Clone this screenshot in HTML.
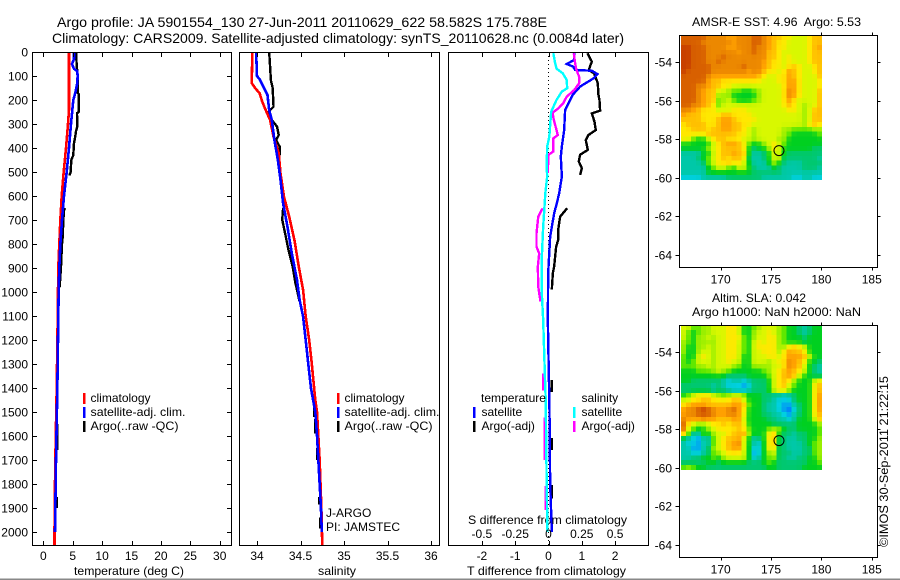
<!DOCTYPE html>
<html>
<head>
<meta charset="utf-8">
<title>Argo profile</title>
<style>
html,body{margin:0;padding:0;background:#fff;width:900px;height:580px;overflow:hidden}
svg{display:block}
text{font-family:"Liberation Sans",sans-serif;font-size:12px;fill:#000}
.big{font-size:14px}
</style>
</head>
<body>
<svg id="fig" xmlns="http://www.w3.org/2000/svg" width="900" height="580" viewBox="0 0 900 580">
<rect x="0" y="0" width="900" height="580" fill="#fff"/>
<text class="big" x="57" y="27" textLength="490" lengthAdjust="spacingAndGlyphs">Argo profile: JA 5901554_130 27-Jun-2011 20110629_622 58.582S 175.788E</text>
<text class="big" x="52" y="43" textLength="572" lengthAdjust="spacingAndGlyphs">Climatology: CARS2009. Satellite-adjusted climatology: synTS_20110628.nc (0.0084d later)</text>
<text x="692" y="26" xml:space="preserve" style="white-space:pre" textLength="169" lengthAdjust="spacingAndGlyphs">AMSR-E SST: 4.96  Argo: 5.53</text>
<text x="712" y="302" textLength="94" lengthAdjust="spacingAndGlyphs">Altim. SLA: 0.042</text>
<text x="692" y="316" textLength="169" lengthAdjust="spacingAndGlyphs">Argo h1000: NaN h2000: NaN</text>
<text x="74" y="575" textLength="110" lengthAdjust="spacingAndGlyphs">temperature (deg C)</text>
<text x="318" y="575" textLength="38" lengthAdjust="spacingAndGlyphs">salinity</text>
<text x="467" y="575" textLength="159" lengthAdjust="spacingAndGlyphs">T difference from climatology</text>
<text x="468" y="524" textLength="159" lengthAdjust="spacingAndGlyphs">S difference from climatology</text>
<text transform="translate(888,547) rotate(-90)" x="0" y="0" textLength="171" lengthAdjust="spacingAndGlyphs">©IMOS 30-Sep-2011 21:22:15</text>
<g id="series-layer"></g>
<g id="map-layer"></g>
<g id="axis-layer"></g>
<g>
<rect x="83" y="393" width="2.5" height="11" fill="#f00"/>
<rect x="83" y="407" width="2.5" height="11" fill="#00f"/>
<rect x="83" y="421" width="2.5" height="11" fill="#000"/>
<text x="90.5" y="402">climatology</text>
<text x="90.5" y="416" textLength="95" lengthAdjust="spacingAndGlyphs">satellite-adj. clim.</text>
<text x="90.5" y="430" textLength="88" lengthAdjust="spacingAndGlyphs">Argo(..raw -QC)</text>
</g>
<g>
<rect x="337" y="393" width="2.5" height="11" fill="#f00"/>
<rect x="337" y="407" width="2.5" height="11" fill="#00f"/>
<rect x="337" y="421" width="2.5" height="11" fill="#000"/>
<text x="344.5" y="402">climatology</text>
<text x="344.5" y="416" textLength="95" lengthAdjust="spacingAndGlyphs">satellite-adj. clim.</text>
<text x="344.5" y="430" textLength="88" lengthAdjust="spacingAndGlyphs">Argo(..raw -QC)</text>
<text x="326" y="517">J-ARGO</text>
<text x="326" y="531">PI: JAMSTEC</text>
</g>
<g>
<text x="481" y="402" textLength="65" lengthAdjust="spacingAndGlyphs">temperature</text>
<rect x="473" y="407" width="2.5" height="11" fill="#00f"/>
<rect x="473" y="421" width="2.5" height="11" fill="#000"/>
<text x="481.5" y="416">satellite</text>
<text x="481.5" y="430">Argo(-adj)</text>
<text x="581.5" y="402">salinity</text>
<rect x="573" y="407" width="2.5" height="11" fill="#0ff"/>
<rect x="573" y="421" width="2.5" height="11" fill="#f0f"/>
<text x="581.5" y="416">satellite</text>
<text x="581.5" y="430">Argo(-adj)</text>
</g>
<rect x="0" y="578.5" width="900" height="1.5" fill="#888"/>
</svg>
<script>
// ---------- profile data (depth in dbar; gaps marked with null) ----------
const depthTicks = [0,100,200,300,400,500,600,700,800,900,1000,1100,1200,1300,1400,1500,1600,1700,1800,1900,2000];
const tempTicks = [0,5,10,15,20,25,30];
const salTicks = [34,34.5,35,35.5,36];
const tDiffTicks = [-2,-1,0,1,2];
const sDiffTicks = [-0.5,-0.25,0,0.25,0.5];
const lonTicks = [170,175,180,185];
const latTicks = [-54,-56,-58,-60,-62,-64];

const tempClimDepths = [0,100,240,300,400,500,600,700,800,900,1000,1200,1400,1600,1700,1900,2055];
const tempClimValues = [4.37,4.37,4.37,4.2,3.86,3.47,3.13,2.9,2.72,2.55,2.5,2.4,2.28,2.12,2.05,1.93,1.9];
const tempSatDepths = [0,30,50,70,80,100,130,170,200,300,400,500,600,700,800,900,1000,1400,1700,1900,2000];
const tempSatValues = [5.22,5.22,4.88,5.22,5.78,5.84,5.78,5.44,5.1,4.71,4.37,3.98,3.52,3.18,2.9,2.72,2.61,2.39,2.16,2.05,1.99];
const tempArgoDepths = [0,50,100,170,175,250,255,310,330,350,380,430,450,500,515,null,650,660,700,770,800,900,980,null,1550,1658,null,1854,1900];
const tempArgoValues = [5.56,5.67,5.84,5.84,6.01,6.01,5.73,5.8,5.56,5.45,5.22,5.1,4.76,4.65,4.43,null,3.69,3.52,3.41,3.3,3.18,3.0,2.78,null,2.42,2.42,null,2.3,2.3];

const salClimDepths = [0,130,151,172,207,242,283,353,422,505,603,686,783,894,992,1103,1200,1300,1450,1500,1700,1900,2055];
const salClimValues = [33.946,33.94,33.98,34.03,34.06,34.1,34.15,34.19,34.25,34.27,34.31,34.37,34.43,34.48,34.53,34.56,34.6,34.63,34.67,34.69,34.72,34.74,34.75];
const salSatDepths = [0,100,114,150,178,242,283,367,450,533,630,728,839,950,1033,1103,1400,1500,1600,1700,1800,1900,2000];
const salSatValues = [33.99,34.0,34.03,34.08,34.12,34.14,34.17,34.2,34.24,34.27,34.3,34.35,34.4,34.46,34.49,34.53,34.62,34.67,34.69,34.705,34.72,34.735,34.745];
const salArgoDepths = [0,118,150,228,250,283,311,346,367,394,428,450,505,null,650,699,768,822,894,960,1040,null,1480,1520,null,1530,1590,null,1650,1700,null,1855,1885,null,1940,1985];
const salArgoValues = [34.14,34.16,34.18,34.19,34.13,34.17,34.23,34.25,34.22,34.26,34.26,34.25,34.27,null,34.3,34.29,34.33,34.36,34.41,34.44,34.49,null,34.655,34.655,null,34.667,34.667,null,34.69,34.69,null,34.716,34.716,null,34.727,34.727];

const tDiffSatDepths = [5,33,50,61,75,78,92,110,144,178,241,325,394,436,519,589,630,672,769,922,1117,1500,1800,2000];
const tDiffSatValues = [0.77,0.77,0.55,0.74,0.8,1.3,1.47,1.35,0.95,0.73,0.5,0.47,0.4,0.37,0.4,0.32,0.25,0.17,0.05,-0.01,-0.02,0.03,0.05,0.1];
const tDiffArgoDepths = [5,40,75,89,130,178,200,244,256,290,325,346,367,408,428,456,484,512,null,651,686,742,783,811,894,922,989,null,1367,1417,null,1608,1658,null,1804,1860];
const tDiffArgoValues = [1.17,1.3,1.21,1.37,1.48,1.5,1.53,1.55,1.3,1.38,1.42,1.2,1.12,1.18,0.95,0.91,1.0,0.95,null,0.56,0.35,0.29,0.29,0.23,0.17,0.13,0.1,null,0.1,0.1,null,0.1,0.1,null,0.1,0.1];
const sDiffSatDepths = [5,47,69,89,117,151,165,200,249,353,394,478,519,589,644,728,853,1006,1117,1367,1450,1783,2000];
const sDiffSatValues = [0.036,0.05,0.06,0.107,0.137,0.14,0.1,0.06,0.02,0.006,-0.01,-0.014,-0.01,-0.024,-0.03,-0.04,-0.05,-0.05,-0.04,-0.026,-0.021,-0.014,-0.008];
const sDiffArgoDepths = [5,47,75,103,130,158,186,214,235,253,283,325,346,360,415,428,505,null,651,686,756,811,839,894,978,1040,null,1340,1410,null,1522,1700,null,1808,1908];
const sDiffArgoValues = [0.19,0.2,0.21,0.23,0.23,0.194,0.137,0.11,0.074,0.03,0.04,0.06,0.07,0.036,0.036,0,-0.006,null,-0.044,-0.077,-0.09,-0.09,-0.07,-0.08,-0.077,-0.06,null,-0.04,-0.04,null,-0.03,-0.03,null,-0.02,-0.02];

// ---------- map data (colour-level per cell, rows north to south) ----------
const floatLon = 175.788;
const floatLat = -58.582;
const gridLonStart = 166.05;
const gridLatStart = -52.6;
const gridLonStep = 0.5;
const gridLatStep = 0.25;
const sstLevels = [
[13,13,13,13,13,12,12,12,12,11,11,12,12,12,13,13,12,11,10,10,9,9,8,8,8,9,10,10],
[13,13,13,13,12,12,12,12,12,12,11,12,12,12,13,13,12,11,10,9,9,8,8,8,8,9,10,10],
[14,14,13,13,13,12,12,12,12,11,11,12,12,12,13,12,12,11,10,9,9,8,8,8,8,9,10,11],
[14,14,13,13,13,12,12,12,12,12,12,11,12,12,13,12,12,10,10,9,8,8,8,8,8,9,10,10],
[14,14,13,13,13,12,12,12,13,12,12,12,12,12,12,12,12,10,10,9,8,9,8,8,8,9,10,10],
[14,14,13,13,13,12,12,13,12,12,12,12,12,12,12,12,11,10,9,9,8,9,8,8,8,9,10,10],
[14,14,13,13,13,13,12,12,12,12,12,12,13,12,12,12,11,10,9,9,8,9,10,9,8,8,9,10],
[14,13,13,13,13,13,12,12,12,12,12,12,12,11,12,12,10,9,9,8,9,11,10,9,8,8,9,10],
[13,13,13,13,13,12,11,11,11,11,11,11,11,11,11,10,9,8,8,9,9,11,10,9,8,8,8,10],
[13,13,13,13,13,11,10,10,9,9,9,9,9,9,9,9,8,8,8,9,9,11,11,9,8,8,8,9],
[13,13,13,12,12,11,10,10,9,9,8,8,8,8,8,8,8,8,8,8,9,11,11,9,8,8,8,9],
[13,13,13,12,11,10,10,8,8,7,6,6,5,5,6,7,8,8,8,8,9,12,11,9,8,8,8,10],
[13,13,13,12,11,10,10,7,7,7,5,5,5,5,5,7,8,8,8,8,9,12,11,9,8,8,8,10],
[13,13,13,12,11,10,10,6,7,8,6,5,5,5,6,7,8,8,8,8,9,11,9,8,8,8,8,10],
[13,13,12,12,11,10,9,6,8,8,8,8,8,8,8,8,8,8,8,8,9,10,9,8,7,8,8,10],
[12,12,11,10,9,9,9,8,8,8,9,9,9,8,8,8,8,8,8,8,8,9,9,8,7,8,10,10],
[11,10,10,10,9,9,9,9,10,10,9,9,9,9,8,8,8,8,8,8,8,8,8,8,7,8,10,10],
[10,10,10,10,9,9,9,10,11,11,10,9,9,9,9,8,8,8,8,8,8,8,8,8,7,8,10,10],
[9,10,10,10,10,9,9,10,11,11,10,10,9,9,8,8,8,8,8,8,8,8,8,8,7,9,10,9],
[9,9,10,10,10,9,10,10,11,11,10,10,9,8,7,8,8,8,8,8,7,7,6,6,6,6,7,7],
[9,9,9,9,9,10,10,10,10,10,10,9,9,8,7,8,8,8,8,8,7,6,5,5,5,5,5,6],
[9,9,6,5,5,8,9,10,10,9,9,9,8,8,7,8,8,8,8,7,7,5,5,5,5,5,5,5],
[5,5,5,5,5,5,8,9,10,11,11,10,9,6,5,5,7,8,9,8,6,5,5,5,5,5,5,5],
[5,5,5,5,5,7,8,9,10,10,10,10,9,5,4,5,5,7,9,8,5,5,5,5,5,5,4,4],
[3,3,3,3,5,5,8,9,10,10,11,10,10,5,3,3,4,5,8,8,5,4,4,4,4,4,4,4],
[3,3,3,4,5,6,8,9,10,9,10,10,9,4,3,3,4,5,8,8,4,4,4,4,4,4,4,3],
[3,3,3,3,4,6,8,9,9,10,9,9,8,5,3,3,3,5,7,5,4,3,3,3,4,4,4,4],
[3,3,3,3,3,5,6,8,8,6,5,8,8,5,4,3,3,3,5,4,3,3,3,3,4,4,4,3],
[3,3,3,3,3,5,5,5,5,5,5,5,5,5,4,4,4,4,4,4,3,3,3,3,3,3,3,3],
[2,2,2,2,3,3,3,3,3,4,4,4,4,4,4,4,3,3,3,3,3,3,2,2,3,3,2,2]
];
const slaLevels = [
[8,8,6,6,7,7,8,8,8,9,9,8,5,5,6,7,8,8,8,7,6,5,5,4,3,4,5,5],
[8,6,5,6,7,7,8,8,8,9,9,8,5,5,7,8,8,9,8,7,6,5,5,4,3,4,5,5],
[8,6,5,7,7,8,7,8,8,9,9,9,6,5,7,8,8,9,9,7,6,5,5,5,4,5,5,5],
[7,6,5,7,7,7,7,8,8,9,9,8,6,5,8,9,8,9,9,7,6,5,5,5,4,5,5,5],
[7,5,5,7,7,8,7,8,8,9,9,8,6,5,8,9,9,9,9,7,7,9,10,9,8,5,5,5],
[7,5,5,7,8,8,7,8,8,9,9,8,6,5,8,8,9,9,9,7,9,11,10,10,9,5,5,5],
[6,5,5,8,9,8,7,8,8,9,9,8,5,5,8,8,8,9,9,8,9,11,11,11,10,8,5,5],
[6,5,6,8,8,8,7,8,8,9,8,8,5,5,8,8,8,7,8,9,9,12,11,10,9,5,5,4],
[6,6,6,7,7,8,7,8,8,8,7,6,5,5,7,7,7,7,8,8,9,12,11,10,8,5,4,3],
[5,5,5,6,6,6,7,8,7,6,5,5,5,5,5,5,6,7,8,9,10,11,10,9,8,5,4,3],
[5,5,5,5,5,5,5,5,5,4,4,4,4,5,5,5,5,6,8,9,10,11,10,8,5,5,4,4],
[5,5,4,4,4,4,4,4,3,2,3,3,2,3,4,4,4,5,8,9,10,9,7,5,5,5,8,9],
[4,4,4,4,4,4,3,4,3,2,2,2,1,2,4,4,4,5,8,9,10,8,6,5,5,5,9,10],
[4,4,4,4,4,4,3,4,4,3,2,2,2,3,4,4,4,5,8,9,9,7,5,5,5,5,9,10],
[5,6,8,9,9,9,8,7,6,7,8,8,7,5,5,5,4,4,3,3,2,3,4,5,5,5,9,11],
[8,8,9,9,10,10,9,9,9,9,10,10,8,5,5,5,4,4,3,2,2,2,4,5,5,5,9,11],
[9,10,11,11,11,10,10,10,10,10,11,11,10,6,5,5,4,3,3,2,1,1,3,4,5,5,9,11],
[11,12,12,13,14,13,12,11,11,12,13,11,9,5,5,5,4,3,3,2,1,0,2,4,5,5,9,11],
[11,12,12,13,13,13,12,11,11,12,12,11,9,5,5,5,4,4,3,3,2,1,3,4,5,5,9,10],
[12,11,11,11,12,11,11,10,10,10,11,11,8,5,5,5,5,4,4,3,3,2,3,5,5,5,8,10],
[13,9,8,7,7,8,9,9,10,9,10,10,9,5,5,5,5,5,4,4,4,4,4,5,5,5,5,7],
[13,8,6,5,5,7,8,9,9,9,9,10,9,6,5,5,5,6,7,7,5,4,4,5,5,5,5,6],
[10,6,3,3,6,5,7,8,8,9,10,10,11,7,5,5,5,9,10,5,4,4,3,4,4,5,5,6],
[4,3,2,1,3,3,6,8,9,10,10,11,8,5,3,4,5,9,10,4,4,3,3,4,4,5,5,7],
[3,2,2,1,3,3,6,8,9,10,11,12,8,5,3,2,5,9,10,4,4,3,3,3,4,5,6,7],
[3,3,1,1,3,4,7,8,9,10,11,11,8,5,2,2,5,9,9,4,4,3,3,3,4,4,6,7],
[3,3,2,2,3,4,6,7,8,9,9,9,8,5,1,2,5,7,8,4,4,4,3,3,4,4,6,7],
[3,3,4,4,5,5,6,5,7,8,8,8,8,5,2,3,5,6,7,4,4,3,3,4,4,5,5,7],
[4,4,4,4,4,5,5,4,5,5,5,5,5,4,4,4,5,6,5,4,4,4,4,4,4,5,5,6],
[6,7,6,5,5,4,4,4,4,4,4,4,4,4,4,4,4,5,5,4,4,4,4,4,5,5,5,5]
];

// ---------- scales ----------
const SVGNS = 'http://www.w3.org/2000/svg';
const panelTop = 52, panelBottom = 545;
function yDepth(d){ return 52 + 0.24 * d; }
function xTemp(t){ return 43.3 + 5.88 * t; }
function xSal(s){ return 257 + 87 * (s - 34); }
function xTDiff(v){ return 548.5 + 33.3 * v; }
function xSDiff(v){ return 548.5 + 133.2 * v; }
function xLon(lon){ return 720.7 + 10.07 * (lon - 170); }
function yLat(lat, latOrigin){ return latOrigin + 19.27 * (-54 - lat); }
const colorStops = [[0,112,255],[0,160,240],[0,208,224],[0,200,168],[0,200,112],[0,208,32],[96,232,0],[160,240,0],[216,248,0],[255,232,0],[255,192,0],[255,160,0],[236,136,0],[216,96,0],[200,64,0]];
function levelColor(level){
  const v = Math.max(0, Math.min(colorStops.length - 1, level));
  const i = Math.min(colorStops.length - 2, Math.floor(v));
  const f = v - i;
  const rgb = colorStops[i].map(function(c, k){ return Math.round(c + (colorStops[i + 1][k] - c) * f); });
  return 'rgb(' + rgb.join(',') + ')';
}
function softLevel(levels, r, c){
  let sum = levels[r][c] * 6, weight = 6;
  [[r - 1, c], [r + 1, c], [r, c - 1], [r, c + 1]].forEach(function(p){
    if (levels[p[0]] !== undefined && levels[p[0]][p[1]] !== undefined) {
      sum += levels[p[0]][p[1]];
      weight += 1;
    }
  });
  return sum / weight;
}
function mk(tag, parent){
  const el = document.createElementNS(SVGNS, tag);
  parent.appendChild(el);
  return el;
}
function seg(parent, x1, y1, x2, y2){
  const l = mk('line', parent);
  l.setAttribute('x1', x1); l.setAttribute('y1', y1);
  l.setAttribute('x2', x2); l.setAttribute('y2', y2);
  l.setAttribute('stroke', '#000');
  l.setAttribute('stroke-width', 1);
  l.setAttribute('shape-rendering', 'crispEdges');
  return l;
}
function label(parent, x, y, str, anchor){
  const t = mk('text', parent);
  t.setAttribute('x', x);
  t.setAttribute('y', y);
  t.setAttribute('text-anchor', anchor);
  t.textContent = str;
  return t;
}

// ---------- profile lines ----------
const seriesLayer = document.getElementById('series-layer');
function drawProfile(name, depths, values, xFn, color, width){
  let pts = [];
  const flush = function(){
    if (pts.length > 1) {
      const line = mk('polyline', seriesLayer);
      
      
      line.setAttribute('points', pts.join(' '));
      line.setAttribute('fill', 'none');
      line.setAttribute('stroke', color);
      line.setAttribute('stroke-width', width);
      line.setAttribute('shape-rendering', 'crispEdges');
    }
    pts = [];
  };
  for (let i = 0; i < depths.length; i++) {
    if (depths[i] === null || values[i] === null) { flush(); continue; }
    pts.push(xFn(values[i]).toFixed(2) + ',' + yDepth(depths[i]).toFixed(2));
  }
  flush();
}
drawProfile('temperature-argo-line', tempArgoDepths, tempArgoValues, xTemp, '#000', 2.4);
drawProfile('temperature-climatology-line', tempClimDepths, tempClimValues, xTemp, '#f00', 2.6);
drawProfile('temperature-satellite-line', tempSatDepths, tempSatValues, xTemp, '#00f', 2.6);
drawProfile('salinity-argo-line', salArgoDepths, salArgoValues, xSal, '#000', 2.4);
drawProfile('salinity-climatology-line', salClimDepths, salClimValues, xSal, '#f00', 2.6);
drawProfile('salinity-satellite-line', salSatDepths, salSatValues, xSal, '#00f', 2.6);

const zeroLine = seg(seriesLayer, 548.5, panelTop, 548.5, panelBottom);


zeroLine.setAttribute('stroke-dasharray', '1 3');

drawProfile('t-difference-argo-line', tDiffArgoDepths, tDiffArgoValues, xTDiff, '#000', 2.4);
drawProfile('t-difference-satellite-line', tDiffSatDepths, tDiffSatValues, xTDiff, '#00f', 2.4);
drawProfile('s-difference-argo-line', sDiffArgoDepths, sDiffArgoValues, xSDiff, '#f0f', 2.4);
drawProfile('s-difference-satellite-line', sDiffSatDepths, sDiffSatValues, xSDiff, '#0ff', 2.4);

// ---------- maps ----------
const mapLayer = document.getElementById('map-layer');
function drawMap(mapName, levels, latOrigin){
  const group = mk('g', mapLayer);
  
  
  levels.forEach(function(row, r){
    row.forEach(function(level, c){
      const lon0 = gridLonStart + c * gridLonStep;
      const lat0 = gridLatStart - r * gridLatStep;
      const x0 = xLon(lon0), x1 = xLon(lon0 + gridLonStep);
      const y0 = yLat(lat0, latOrigin), y1 = yLat(lat0 - gridLatStep, latOrigin);
      const cell = mk('rect', group);
      
      
      cell.setAttribute('x', x0.toFixed(2));
      cell.setAttribute('y', y0.toFixed(2));
      cell.setAttribute('width', (x1 - x0 + 0.3).toFixed(2));
      cell.setAttribute('height', (y1 - y0 + 0.3).toFixed(2));
      cell.setAttribute('fill', levelColor(softLevel(levels, r, c)));
      cell.setAttribute('shape-rendering', 'crispEdges');
    });
  });
  const marker = mk('circle', group);
  
  
  marker.setAttribute('cx', xLon(floatLon));
  marker.setAttribute('cy', yLat(floatLat, latOrigin));
  marker.setAttribute('r', 5);
  marker.setAttribute('fill', 'none');
  marker.setAttribute('stroke', '#000');
  marker.setAttribute('stroke-width', 1);
}
drawMap('sst-map', sstLevels, 62.3);
drawMap('sla-map', slaLevels, 352.3);

// ---------- axes ----------
const axisLayer = document.getElementById('axis-layer');
function frame(name, x, y, w, h){
  const f = mk('rect', axisLayer);
  
  
  f.setAttribute('x', x); f.setAttribute('y', y);
  f.setAttribute('width', w); f.setAttribute('height', h);
  f.setAttribute('fill', 'none');
  f.setAttribute('stroke', '#000');
  f.setAttribute('stroke-width', 1);
  f.setAttribute('shape-rendering', 'crispEdges');
}
frame('temperature-panel-frame', 32.5, 52.5, 199, 493);
frame('salinity-panel-frame', 239.5, 52.5, 200, 493);
frame('difference-panel-frame', 448.5, 52.5, 200, 493);
frame('sst-map-frame', 679.5, 35.5, 198, 232);
frame('sla-map-frame', 679.5, 325.5, 198, 232);

depthTicks.forEach(function(d){
  const y = Math.round(yDepth(d)) + 0.5;
  const a = seg(axisLayer, 32.5, y, 37, y);
  
  
  const b = seg(axisLayer, 227, y, 231.5, y);
  
  
  const t = label(axisLayer, 28, y + 4, String(d), 'end');
  
  
});
function xAxisTicks(ticks, xFn, tickName, labelName){
  ticks.forEach(function(v){
    const x = Math.round(xFn(v)) + 0.5;
    const top = seg(axisLayer, x, 52.5, x, 57);
    
    
    const bot = seg(axisLayer, x, 541, x, 545.5);
    
    
    const t = label(axisLayer, xFn(v), 560, String(v), 'middle');
    
    
  });
}
xAxisTicks(tempTicks, xTemp, 'temperature-tick', 'temperature-tick-label');
xAxisTicks(salTicks, xSal, 'salinity-tick', 'salinity-tick-label');
xAxisTicks(tDiffTicks, xTDiff, 't-difference-tick', 't-difference-tick-label');
sDiffTicks.forEach(function(v){
  const t = label(axisLayer, xSDiff(v), 538, String(v), 'middle');
  
  
});
function mapAxes(top, bottom, latOrigin){
  lonTicks.forEach(function(lon){
    const x = Math.round(xLon(lon)) + 0.5;
    const a = seg(axisLayer, x, top - 3, x, top);
    
    
    const b = seg(axisLayer, x, bottom, x, bottom + 3);
    
    
    const t = label(axisLayer, xLon(lon), bottom + 16, String(lon), 'middle');
    
    
  });
  latTicks.forEach(function(lat){
    const y = Math.round(yLat(lat, latOrigin)) + 0.5;
    const a = seg(axisLayer, 675.5, y, 679.5, y);
    
    
    const b = seg(axisLayer, 877.5, y, 880.5, y);
    
    
    const t = label(axisLayer, 672, y + 4, String(lat), 'end');
    
    
  });
}
mapAxes(35.5, 267.5, 62.3);
mapAxes(325.5, 557.5, 352.3);
</script>
</body>
</html>
